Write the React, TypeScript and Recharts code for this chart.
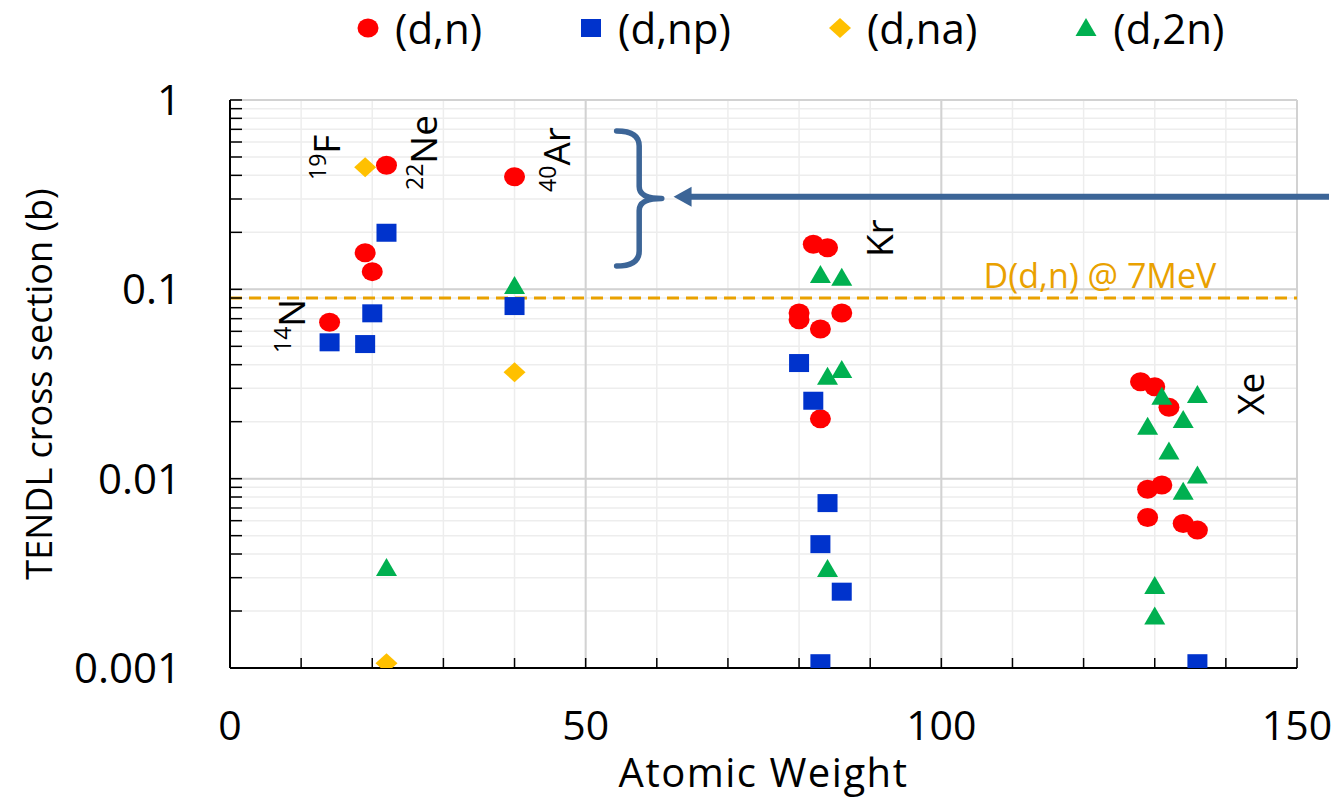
import React from 'react';
import {
  ScatterChart,
  Scatter,
  XAxis,
  YAxis,
  CartesianGrid,
  ReferenceLine,
  ReferenceArea,
  ReferenceDot,
  Legend,
  Label,
} from 'recharts';

const FONT = '"Open Sans", "Noto Sans", sans-serif';

// values (atomic weight, cross section in barns)
const dnData = [
  { x: 14, y: 0.067 }, { x: 19, y: 0.156 }, { x: 20, y: 0.124 }, { x: 22, y: 0.452 },
  { x: 40, y: 0.393 }, { x: 80, y: 0.075 }, { x: 80, y: 0.069 }, { x: 82, y: 0.173 },
  { x: 84, y: 0.166 }, { x: 83, y: 0.0617 }, { x: 86, y: 0.075 }, { x: 83, y: 0.0207 },
  { x: 128, y: 0.0325 }, { x: 130, y: 0.0306 }, { x: 132, y: 0.0238 }, { x: 129, y: 0.0088 },
  { x: 131, y: 0.00925 }, { x: 129, y: 0.00624 }, { x: 134, y: 0.0058 }, { x: 136, y: 0.00535 },
];

const dnpData = [
  { x: 14, y: 0.0525 }, { x: 19, y: 0.0514 }, { x: 20, y: 0.0747 }, { x: 22, y: 0.199 },
  { x: 40, y: 0.0816 }, { x: 80, y: 0.0408 }, { x: 82, y: 0.0258 }, { x: 84, y: 0.00743 },
  { x: 83, y: 0.00451 }, { x: 86, y: 0.00253 }, { x: 83, y: 0.00106 }, { x: 136, y: 0.00106 },
];

const dnaData = [
  { x: 19, y: 0.441 }, { x: 40, y: 0.0365 }, { x: 22, y: 0.00106 },
];

const d2nData = [
  { x: 22, y: 0.00337 }, { x: 40, y: 0.104 }, { x: 83, y: 0.119 }, { x: 86, y: 0.115 },
  { x: 86, y: 0.0375 }, { x: 84, y: 0.0345 }, { x: 84, y: 0.00333 }, { x: 131, y: 0.0271 },
  { x: 136, y: 0.0277 }, { x: 134, y: 0.0204 }, { x: 129, y: 0.0188 }, { x: 132, y: 0.0139 },
  { x: 136, y: 0.0104 }, { x: 134, y: 0.00853 }, { x: 130, y: 0.00271 }, { x: 130, y: 0.00187 },
];

const xTicks = [0, 10, 20, 30, 40, 50, 60, 70, 80, 90, 100, 110, 120, 130, 140, 150];
const xLabels = [0, 50, 100, 150];
const yTicks = [
  0.001, 0.002, 0.003, 0.004, 0.005, 0.006, 0.007, 0.008, 0.009,
  0.01, 0.02, 0.03, 0.04, 0.05, 0.06, 0.07, 0.08, 0.09,
  0.1, 0.2, 0.3, 0.4, 0.5, 0.6, 0.7, 0.8, 0.9, 1,
];
const yLabels = [0.001, 0.01, 0.1, 1];
const xMajor = [50, 100, 150];
const yMajor = [0.01, 0.1, 1];

const ddRef = 0.09;

const isotopeLabels = [
  { x: 15.46, y: 0.378, sup: '19', main: 'F' },
  { x: 29.1, y: 0.335, sup: '22', main: 'Ne' },
  { x: 47.8, y: 0.327, sup: '40', main: 'Ar' },
  { x: 10.54, y: 0.0461, sup: '14', main: 'N' },
  { x: 93.2, y: 0.148, sup: '', main: 'Kr' },
  { x: 145.4, y: 0.0217, sup: '', main: 'Xe' },
];

const RED = '#FF0000';
const BLUE = '#0033CC';
const GOLD = '#FFC000';
const GREEN = '#00B050';
const ARROW = '#3C6597';
const ORANGE = '#E9A100';

const CircleMark = ({ cx, cy }: any) => <ellipse cx={cx} cy={cy} rx={10.5} ry={9.5} fill={RED} />;
const SquareMark = ({ cx, cy }: any) => <rect x={cx - 10} y={cy - 9} width={20} height={18} fill={BLUE} />;
const DiamondMark = ({ cx, cy }: any) => (
  <polygon points={`${cx},${cy - 10} ${cx + 11},${cy} ${cx},${cy + 10} ${cx - 11},${cy}`} fill={GOLD} />
);
const TriangleMark = ({ cx, cy }: any) => (
  <polygon points={`${cx},${cy - 10} ${cx + 10.5},${cy + 8} ${cx - 10.5},${cy + 8}`} fill={GREEN} />
);

const series = [
  { name: '(d,n)', data: dnData, Mark: CircleMark },
  { name: '(d,np)', data: dnpData, Mark: SquareMark },
  { name: '(d,na)', data: dnaData, Mark: DiamondMark },
  { name: '(d,2n)', data: d2nData, Mark: TriangleMark },
];

const renderLegend = () => (
  <div
    style={{
      height: 56,
      display: 'flex',
      alignItems: 'center',
      paddingLeft: 357,
      fontFamily: FONT,
      fontSize: 42,
      color: '#000',
    }}
  >
    {series.map(({ name, Mark }) => (
      <div key={name} style={{ display: 'flex', alignItems: 'center', marginRight: 98 }}>
        <svg width={22} height={22} style={{ overflow: 'visible' }}>
          <Mark cx={11} cy={11} />
        </svg>
        <span style={{ marginLeft: 16, lineHeight: '56px' }}>{name}</span>
      </div>
    ))}
  </div>
);

const YTitle = (props: any) => {
  const vb = props.viewBox || { x: 0, y: 100, width: 230, height: 568 };
  const cx = vb.x + 38;
  const cy = vb.y + vb.height / 2;
  return (
    <text x={cx} y={cy} transform={`rotate(-90 ${cx} ${cy})`} textAnchor="middle" dominantBaseline="central"
      fontFamily={FONT} fontSize={36} fill="#000">
      TENDL cross section (b)
    </text>
  );
};

const XTitle = (props: any) => {
  const vb = props.viewBox || { x: 230, y: 668, width: 1067, height: 138 };
  return (
    <text x={vb.x + vb.width / 2} y={vb.y + 119} textAnchor="middle" fontFamily={FONT} fontSize={40}
      letterSpacing={1.5} fill="#000">
      Atomic Weight
    </text>
  );
};

const IsotopeText = ({ cx, cy, sup, main }: any) => (
  <text x={cx} y={cy} transform={`rotate(-90 ${cx} ${cy})`} fontFamily={FONT} fill="#000">
    {sup ? <tspan fontSize={23} dy={-14}>{sup}</tspan> : null}
    <tspan fontSize={37} dy={sup ? 14 : 0}>{main}</tspan>
  </text>
);

const Brace = ({ x, y, width, height }: any) => {
  const xm = x + width * 0.5;
  const ym = y + height / 2;
  const r = 15;
  const r2 = 12;
  const d = `M${x},${y} Q${xm},${y} ${xm},${y + r} L${xm},${ym - r2} Q${xm},${ym} ${x + width},${ym} ` +
    `Q${xm},${ym} ${xm},${ym + r2} L${xm},${y + height - r} Q${xm},${y + height} ${x},${y + height}`;
  return <path d={d} fill="none" stroke={ARROW} strokeWidth={5.5} strokeLinecap="round" strokeLinejoin="round" />;
};

const Arrow = ({ x1, y1, x2, y2 }: any) => (
  <g>
    <line x1={x1} y1={y1} x2={x2 + 15} y2={y2} stroke={ARROW} strokeWidth={6} />
    <polygon points={`${x2},${y2} ${x2 + 18},${y2 - 10} ${x2 + 18},${y2 + 10}`} fill={ARROW} />
  </g>
);

export default function App() {
  return (
    <div style={{ position: 'absolute', left: 0, top: 0, background: '#fff' }}>
      <ScatterChart width={1334} height={806} margin={{ top: 44, right: 37, bottom: 0, left: 0 }}>
        <CartesianGrid stroke="#EDEDED" strokeWidth={1.5} />
        {xMajor.map((v) => (
          <ReferenceLine key={`xm${v}`} x={v} stroke="#D2D2D2" strokeWidth={2} />
        ))}
        {yMajor.map((v) => (
          <ReferenceLine key={`ym${v}`} y={v} stroke="#D2D2D2" strokeWidth={2} />
        ))}
        <XAxis
          type="number"
          dataKey="x"
          domain={[0, 150]}
          allowDataOverflow
          ticks={xTicks}
          interval={0}
          height={138}
          tickFormatter={(v: number) => (xLabels.includes(v) ? String(v) : '')}
          tick={{ fontSize: 41, fill: '#000', fontFamily: FONT }}
          tickSize={-10}
          tickMargin={53}
          tickLine={{ stroke: '#000', strokeWidth: 1.5 }}
          axisLine={{ stroke: '#000', strokeWidth: 2 }}
        >
          <Label content={XTitle} />
        </XAxis>
        <YAxis
          type="number"
          dataKey="y"
          scale="log"
          domain={[0.001, 1]}
          allowDataOverflow
          ticks={yTicks}
          interval={0}
          width={230}
          tickFormatter={(v: number) => (yLabels.some((l) => Math.abs(l - v) < l * 1e-6) ? String(v) : '')}
          tick={{ fontSize: 42, fill: '#000', fontFamily: FONT }}
          tickSize={-12}
          tickMargin={61}
          tickLine={{ stroke: '#000', strokeWidth: 1.5 }}
          axisLine={{ stroke: '#000', strokeWidth: 2 }}
        >
          <Label content={YTitle} />
        </YAxis>
        <Legend verticalAlign="top" content={renderLegend} wrapperStyle={{ top: 0, left: 0, width: 1334 }} />
        <ReferenceLine y={ddRef} stroke={ORANGE} strokeWidth={3} strokeDasharray="12 7" />
        <ReferenceDot
          x={122.3}
          y={0.1016}
          r={1}
          shape={({ cx, cy }: any) => (
            <text x={cx} y={cy} textAnchor="middle" fontFamily={FONT} fontSize={34} fill={ORANGE}>
              D(d,n) @ 7MeV
            </text>
          )}
        />
        {isotopeLabels.map((l) => (
          <ReferenceDot
            key={l.main}
            x={l.x}
            y={l.y}
            r={1}
            shape={({ cx, cy }: any) => <IsotopeText cx={cx} cy={cy} sup={l.sup} main={l.main} />}
          />
        ))}
        <ReferenceArea x1={54.35} x2={60.7} y1={0.1327} y2={0.686} shape={Brace} />
        <ReferenceLine
          segment={[{ x: 154.5, y: 0.308 }, { x: 62.36, y: 0.308 }]}
          ifOverflow="visible"
          shape={Arrow}
        />
        {series.map(({ name, data, Mark }) => (
          <Scatter key={name} name={name} data={data} shape={Mark} isAnimationActive={false} />
        ))}
      </ScatterChart>
    </div>
  );
}
